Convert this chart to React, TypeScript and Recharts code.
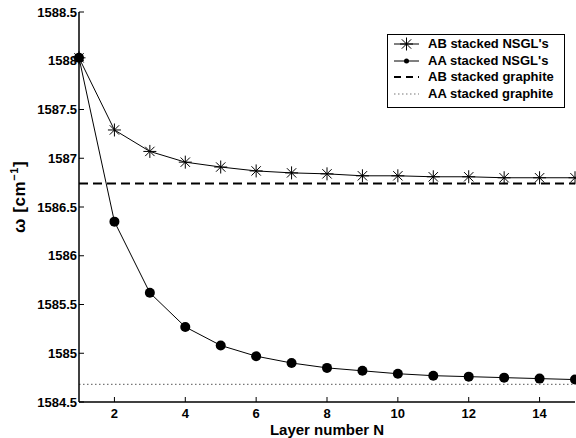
import React from 'react';
import {
  LineChart, Line, XAxis, YAxis, ReferenceLine, Label,
} from 'recharts';

const FONT = '"Liberation Sans", Arial, Helvetica, sans-serif';

const layers = [1, 2, 3, 4, 5, 6, 7, 8, 9, 10, 11, 12, 13, 14, 15];
const abNsgl = [1588.03, 1587.29, 1587.07, 1586.96, 1586.91, 1586.87, 1586.85, 1586.84, 1586.82, 1586.82, 1586.81, 1586.81, 1586.80, 1586.80, 1586.80];
const aaNsgl = [1588.03, 1586.35, 1585.62, 1585.27, 1585.08, 1584.97, 1584.90, 1584.85, 1584.82, 1584.79, 1584.77, 1584.76, 1584.75, 1584.74, 1584.73];
const abGraphite = 1586.74;
const aaGraphite = 1584.68;

const xTicks = [2, 4, 6, 8, 10, 12, 14];
const yTicks = [1584.5, 1585, 1585.5, 1586, 1586.5, 1587, 1587.5, 1588, 1588.5];

const data = layers.map((n, i) => ({ n, ab: abNsgl[i], aa: aaNsgl[i] }));

const tickStyle = { fill: '#000', fontSize: 13, fontWeight: 700, fontFamily: FONT };

function Asterisk({ cx, cy, r = 6.5 }: { cx: number; cy: number; r?: number }) {
  const d = r * 0.72;
  return (
    <g stroke="#000" strokeWidth={1}>
      <line x1={cx} y1={cy - r} x2={cx} y2={cy + r} />
      <line x1={cx - r} y1={cy} x2={cx + r} y2={cy} />
      <line x1={cx - d} y1={cy - d} x2={cx + d} y2={cy + d} />
      <line x1={cx - d} y1={cy + d} x2={cx + d} y2={cy - d} />
    </g>
  );
}

const starDot = (p: any) => <Asterisk key={`s${p.index}`} cx={p.cx} cy={p.cy} />;
const circleDot = (p: any) => <circle key={`c${p.index}`} cx={p.cx} cy={p.cy} r={5} fill="#000" />;

function YTitle() {
  return (
    <text
      transform="translate(25,233) rotate(-90)"
      textAnchor="start"
      style={{ fontFamily: FONT, fontWeight: 700, fontSize: 17, fill: '#000', letterSpacing: 0.6 }}
    >
      ω [cm<tspan fontSize={11} dy={-7}>−1</tspan><tspan dy={7}>]</tspan>
    </text>
  );
}

const legendRows = [
  { name: "AB stacked NSGL's", kind: 'star' },
  { name: "AA stacked NSGL's", kind: 'dot' },
  { name: 'AB stacked graphite', kind: 'dash' },
  { name: 'AA stacked graphite', kind: 'dotted' },
];

function LegendBox() {
  return (
    <div
      style={{
        position: 'absolute', left: 387, top: 34, width: 176, height: 72,
        border: '1px solid #000', background: '#fff', fontFamily: FONT,
      }}
    >
      {legendRows.map((row, i) => (
        <div key={row.name} style={{ position: 'absolute', left: 0, top: 1 + i * 16.5, height: 16, width: 176 }}>
          <svg width={36} height={16} style={{ position: 'absolute', left: 0, top: 0 }}>
            {row.kind === 'star' && (<><line x1={6} y1={8} x2={31} y2={8} stroke="#000" /><Asterisk cx={18.5} cy={8} /></>)}
            {row.kind === 'dot' && (<><line x1={6} y1={8} x2={31} y2={8} stroke="#000" /><circle cx={18.5} cy={8} r={2.5} fill="#000" /></>)}
            {row.kind === 'dash' && <line x1={6} y1={8} x2={31} y2={8} stroke="#000" strokeWidth={2} strokeDasharray="7 5" />}
            {row.kind === 'dotted' && <line x1={6} y1={8} x2={31} y2={8} stroke="#777" strokeWidth={1.2} strokeDasharray="1.5 2.5" />}
          </svg>
          <span style={{ position: 'absolute', left: 40, top: 0, fontSize: 13, fontWeight: 700, lineHeight: '16px', whiteSpace: 'nowrap' }}>
            {row.name}
          </span>
        </div>
      ))}
    </div>
  );
}

export default function App() {
  return (
    <div style={{ position: 'absolute', left: 0, top: 0, width: 576, height: 438, background: '#fff' }}>
      <LineChart width={576} height={438} data={data} margin={{ top: 12, right: 1, bottom: 0, left: 0 }}>
        <XAxis
          dataKey="n" type="number" domain={[1, 15]} ticks={xTicks}
          height={36} tickSize={-5} tickMargin={12} tick={tickStyle}
          axisLine={{ stroke: '#000', strokeWidth: 1.5 }} tickLine={{ stroke: '#000' }}
        >
          <Label value="Layer number N" position="insideBottom" offset={3}
            style={{ fontFamily: FONT, fontWeight: 700, fontSize: 15, fill: '#000' }} />
        </XAxis>
        <XAxis
          xAxisId="top" orientation="top" dataKey="n" type="number" domain={[1, 15]} ticks={xTicks}
          height={0} tickSize={-5} tickFormatter={() => ''}
          axisLine={{ stroke: '#000' }} tickLine={{ stroke: '#000' }}
        />
        <YAxis
          type="number" domain={[1584.5, 1588.5]} ticks={yTicks} width={79}
          tickSize={-5} tickMargin={7} tick={tickStyle}
          axisLine={{ stroke: '#000', strokeWidth: 1.5 }} tickLine={{ stroke: '#000' }}
          label={<YTitle />}
        />
        <YAxis
          yAxisId="right" orientation="right" type="number" domain={[1584.5, 1588.5]} ticks={yTicks}
          width={0} tickSize={-5} tickFormatter={() => ''}
          axisLine={{ stroke: '#000' }} tickLine={{ stroke: '#000' }}
        />
        <ReferenceLine y={abGraphite} stroke="#000" strokeWidth={2} strokeDasharray="9 5" />
        <ReferenceLine y={aaGraphite} stroke="#777" strokeWidth={1.2} strokeDasharray="1.5 2.5" />
        <Line dataKey="ab" stroke="#000" strokeWidth={1} dot={starDot} isAnimationActive={false} />
        <Line dataKey="aa" stroke="#000" strokeWidth={1} dot={circleDot} isAnimationActive={false} />
      </LineChart>
      <LegendBox />
    </div>
  );
}
